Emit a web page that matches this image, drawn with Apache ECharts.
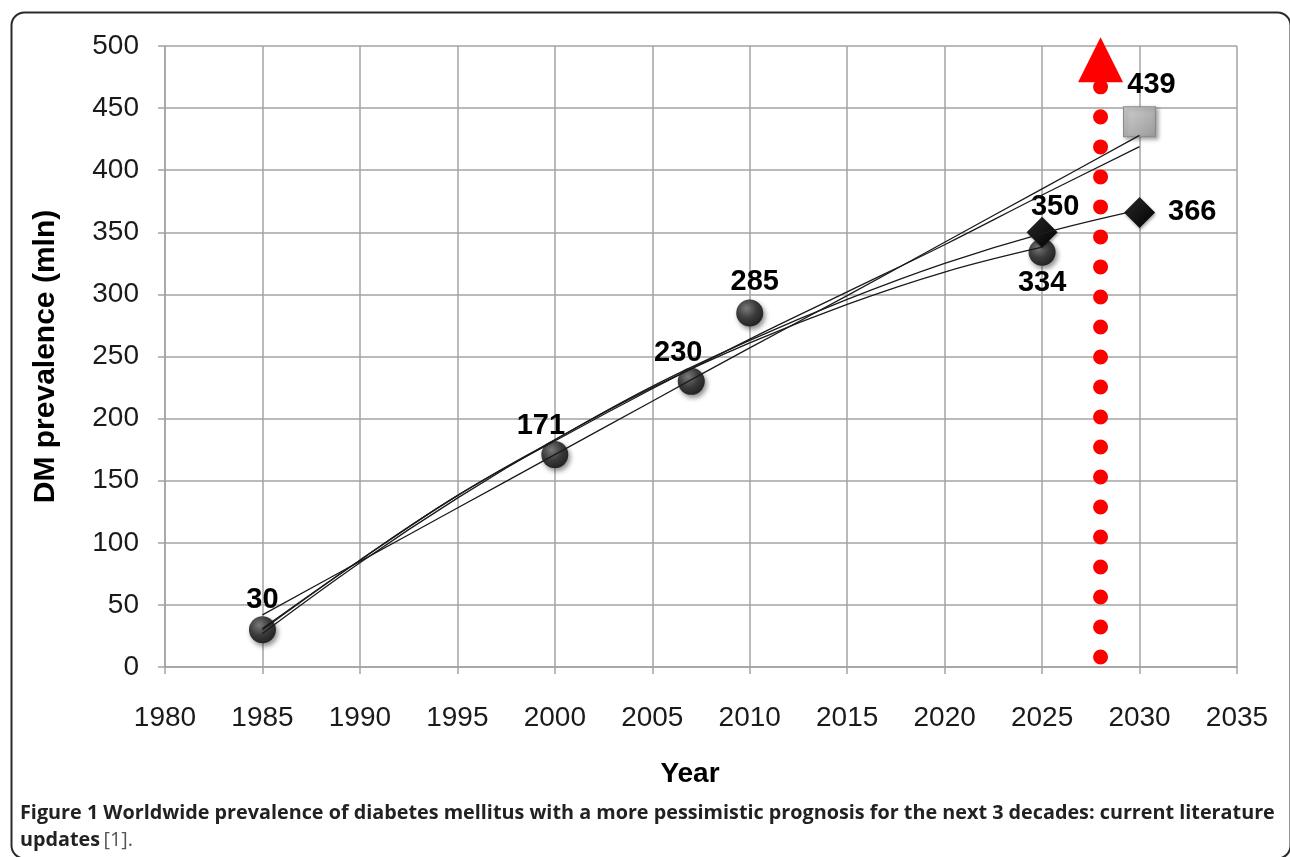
<!DOCTYPE html>
<html>
<head>
<meta charset="utf-8">
<script src="https://cdn.jsdelivr.net/npm/echarts@6/dist/echarts.min.js"></script>
<style>
html,body{margin:0;padding:0;background:#fff;}
#chart{width:1290px;height:857px;}
</style>
</head>
<body>
<div id="chart"></div>
<script>
// ---- data ----
const xTicks = [1980, 1985, 1990, 1995, 2000, 2005, 2010, 2015, 2020, 2025, 2030, 2035];
const yTicks = [0, 50, 100, 150, 200, 250, 300, 350, 400, 450, 500];

const circleYears = [1985, 2000, 2007, 2010, 2025];
const circleValues = [30, 171, 230, 285, 334];

const diamondYears = [2025, 2030];
const diamondValues = [350, 366];

const squareYears = [2030];
const squareValues = [439];

const trendYears = [1985, 1990, 1995, 2000, 2005, 2010, 2015, 2020, 2025, 2030];
const trendLinear = [42, 85, 128, 171, 214, 257, 299, 342, 385, 428];
const trendHigh = [31, 86, 138, 182, 224, 264, 302, 340, 380, 419];
const trendMid = [30, 86, 138, 183, 226, 263, 296, 325, 349, 368];
const trendLow = [27, 84, 136, 183, 225, 261, 292, 318, 338];

const markerYear = 2028;
const markerRange = [8, 470];
const arrowValue = 489;

const captionLine1 = 'Figure 1 Worldwide prevalence of diabetes mellitus with a more pessimistic prognosis for the next 3 decades: current literature';
const captionLine2Bold = 'updates';
const captionLine2Ref = '[1].';

// ---- helpers ----
function pairs(xs, ys) { return xs.map((x, i) => [x, ys[i]]); }

const gridColor = '#a3a3a3';
const labelFont = { fontFamily: 'Liberation Sans', fontSize: 29, fontWeight: 'bold', color: '#000', opacity: 1 };

// label placement per point (style, not data)
const circleLabelOffsets = [[0, 2], [-14, 3], [-13, 4], [5, 1], [0, -1]];
const circleLabelPos = ['top', 'top', 'top', 'top', 'bottom'];

const sphere = {
  type: 'radial', x: 0.38, y: 0.33, r: 0.75,
  colorStops: [{ offset: 0, color: '#7a7a7a' }, { offset: 0.5, color: '#3c3c3c' }, { offset: 1, color: '#1e1e1e' }]
};

function trend(ys) {
  return {
    type: 'line', data: pairs(trendYears.slice(0, ys.length), ys), smooth: 0.4,
    symbol: 'none', silent: true, z: 7,
    lineStyle: { color: '#1a1a1a', width: 1.3 }
  };
}

const chart = echarts.init(document.getElementById('chart'));
chart.setOption({
  animation: false,
  backgroundColor: '#fff',
  grid: { left: 165, right: 53, top: 46, bottom: 190 },
  xAxis: {
    type: 'value', min: xTicks[0], max: xTicks[xTicks.length - 1], interval: 5,
    name: 'Year', nameLocation: 'middle', nameGap: 93,
    nameTextStyle: { fontFamily: 'Liberation Sans', fontSize: 28, fontWeight: 'bold', color: '#000', padding: [0, 22, 0, 0] },
    axisLine: { lineStyle: { color: gridColor, width: 1.5 } },
    axisTick: { show: true, length: 7, lineStyle: { color: gridColor, width: 1.5 } },
    axisLabel: { margin: 37, fontFamily: 'Liberation Sans', fontSize: 28, color: '#1a1a1a', formatter: v => String(v) },
    splitLine: { show: true, lineStyle: { color: gridColor, width: 1.5 } }
  },
  yAxis: {
    type: 'value', min: yTicks[0], max: yTicks[yTicks.length - 1], interval: 50,
    name: 'DM prevalence (mln)', nameLocation: 'middle', nameGap: 104,
    nameTextStyle: { fontFamily: 'Liberation Sans', fontSize: 30, fontWeight: 'bold', color: '#000' },
    axisLine: { show: true, lineStyle: { color: gridColor, width: 1.5 } },
    axisTick: { show: true, length: 7, lineStyle: { color: gridColor, width: 1.5 } },
    axisLabel: { margin: 26, fontFamily: 'Liberation Sans', fontSize: 28, color: '#1a1a1a', formatter: v => String(v) },
    splitLine: { show: true, lineStyle: { color: gridColor, width: 1.5 } }
  },
  series: [
    trend(trendLinear),
    trend(trendHigh),
    trend(trendMid),
    trend(trendLow),
    {
      type: 'line', data: markerRange.map(v => [markerYear, v]), symbol: 'none', silent: true, z: 4,
      lineStyle: { color: '#ff0000', width: 15, type: [0.01, 30], cap: 'round' }
    },
    {
      type: 'scatter', data: [[markerYear, arrowValue]], symbol: 'triangle', symbolSize: [45, 45],
      clip: false, silent: true, z: 4, itemStyle: { color: '#ff0000', opacity: 1 }
    },
    {
      type: 'scatter', z: 5, clip: false,
      data: circleYears.map((y, i) => ({
        value: [y, circleValues[i]],
        label: { position: circleLabelPos[i], offset: circleLabelOffsets[i] }
      })),
      symbol: 'circle', symbolSize: 27,
      itemStyle: { color: sphere, opacity: 1, shadowBlur: 5, shadowColor: 'rgba(0,0,0,0.45)', shadowOffsetX: 2, shadowOffsetY: 3 },
      label: Object.assign({ show: true, distance: 4, formatter: p => String(p.value[1]) }, labelFont)
    },
    {
      type: 'scatter', z: 6, clip: false,
      data: diamondYears.map((y, i) => ({
        value: [y, diamondValues[i]],
        label: i === 0 ? { position: 'top', offset: [13, 10] } : { position: 'right', offset: [8, 0] }
      })),
      symbol: 'diamond', symbolSize: [31, 31],
      itemStyle: {
        opacity: 1,
        color: { type: 'linear', x: 0, y: 0, x2: 1, y2: 1, colorStops: [{ offset: 0, color: '#2a2a2a' }, { offset: 1, color: '#000' }] },
        shadowBlur: 3, shadowColor: 'rgba(0,0,0,0.35)', shadowOffsetX: 1, shadowOffsetY: 2
      },
      label: Object.assign({ show: true, formatter: p => String(p.value[1]) }, labelFont)
    },
    {
      type: 'scatter', z: 6, clip: false,
      data: squareYears.map((y, i) => ({ value: [y, squareValues[i]] })),
      symbol: 'rect', symbolSize: [32, 30],
      itemStyle: {
        opacity: 1,
        color: { type: 'linear', x: 0, y: 0, x2: 1, y2: 1, colorStops: [{ offset: 0, color: '#d0d0d0' }, { offset: 1, color: '#9a9a9a' }] },
        borderColor: '#8a8a8a', borderWidth: 1,
        shadowBlur: 4, shadowColor: 'rgba(0,0,0,0.35)', shadowOffsetX: 2, shadowOffsetY: 2
      },
      label: Object.assign({ show: true, position: 'top', offset: [12, -2], formatter: p => String(p.value[1]) }, labelFont)
    }
  ],
  graphic: [
    {
      type: 'rect', left: 9, top: 10, silent: true, z: -1,
      shape: { width: 1279, height: 846, r: 13 },
      style: { fill: 'none', stroke: '#2a2a2a', lineWidth: 2 }
    },
    {
      type: 'text', left: 20, top: 803, silent: true,
      style: { text: captionLine1, fontFamily: 'Open Sans', fontWeight: 'bold', fontSize: 19.8, fill: '#222' }
    },
    {
      type: 'text', left: 20, top: 830, silent: true,
      style: {
        text: '{b|' + captionLine2Bold + '} {r|' + captionLine2Ref + '}',
        rich: {
          b: { fontFamily: 'Open Sans', fontWeight: 'bold', fontSize: 19.8, fill: '#222' },
          r: { fontFamily: 'Open Sans', fontWeight: 'normal', fontSize: 19.8, fill: '#555' }
        }
      }
    }
  ]
});
</script>
</body>
</html>
